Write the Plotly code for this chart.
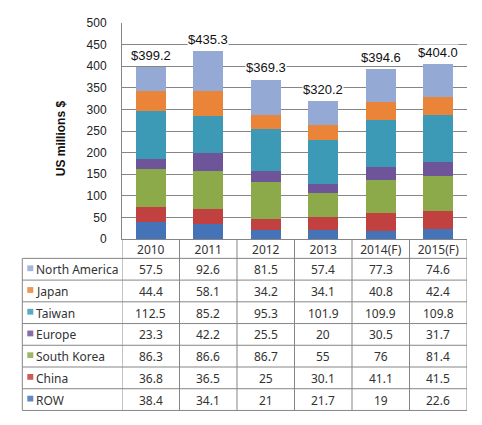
import plotly.graph_objects as go

categories = ["2010", "2011", "2012", "2013", "2014(F)", "2015(F)"]
north_america = [57.5, 92.6, 81.5, 57.4, 77.3, 74.6]
japan = [44.4, 58.1, 34.2, 34.1, 40.8, 42.4]
taiwan = [112.5, 85.2, 95.3, 101.9, 109.9, 109.8]
europe = [23.3, 42.2, 25.5, 20, 30.5, 31.7]
south_korea = [86.3, 86.6, 86.7, 55, 76, 81.4]
china = [36.8, 36.5, 25, 30.1, 41.1, 41.5]
row_values = [38.4, 34.1, 21, 21.7, 19, 22.6]
total_labels = [399.2, 435.3, 369.3, 320.2, 394.6, 404.0]

# stack order bottom -> top
series = [
    ("ROW", row_values, "#4473B8"),
    ("China", china, "#C0413F"),
    ("South Korea", south_korea, "#8DAA4A"),
    ("Europe", europe, "#6E5499"),
    ("Taiwan", taiwan, "#3C9AB7"),
    ("Japan", japan, "#EA8438"),
    ("North America", north_america, "#94A9D4"),
]

OFF = 8  # page body margin
W, H = 482 - OFF, 425 - OFF
AXIS_Y_SCREEN = 239
TOP_SCREEN = 16
LEFT_SCREEN = 122
RIGHT_SCREEN = 467
ML = LEFT_SCREEN - OFF
MT = TOP_SCREEN - OFF
MB = H - (AXIS_Y_SCREEN - OFF)
MR = W - (RIGHT_SCREEN - OFF)
PW = W - ML - MR
PH = H - MT - MB


def px_x(px):
    return (px - LEFT_SCREEN) / PW


def px_y(py):
    return (AXIS_Y_SCREEN - py) / PH


fig = go.Figure()
for name, vals, color in series:
    fig.add_trace(go.Bar(
        x=categories, y=vals, name=name,
        marker=dict(color=color, line=dict(width=0)),
        hoverinfo="skip",
    ))

font_table = "Noto Sans, Open Sans, sans-serif"
font_arial = "Liberation Sans, Arial, sans-serif"
line_col = "#858585"

annotations = []
shapes = []

# total labels
for k, t in enumerate(total_labels):
    annotations.append(dict(
        x=k, y=t, xref="x", yref="y", text=f"${t:.1f}", showarrow=False,
        xanchor="center", yanchor="bottom", yshift=3,
        bgcolor="white", borderpad=0,
        font=dict(family=font_arial, size=13, color="#111111"),
    ))

# y title
annotations.append(dict(
    x=px_x(61), y=px_y(135), xref="paper", yref="paper",
    text="<b>US millions $</b>", textangle=-90, showarrow=False,
    xanchor="center", yanchor="middle",
    font=dict(family=font_arial, size=12, color="#111111"),
))

# table
TABLE_TOP = 259
ROW_H = 22.43
TABLE_LEFT = 22.3
table_rows = list(reversed(series))
n_rows = len(table_rows)
table_bottom = TABLE_TOP + ROW_H * n_rows

for i in range(n_rows + 1):
    y = px_y(TABLE_TOP + i * ROW_H)
    shapes.append(dict(type="line", xref="paper", yref="paper",
                       x0=px_x(TABLE_LEFT), x1=1, y0=y, y1=y,
                       line=dict(color=line_col, width=1)))
shapes.append(dict(type="line", xref="paper", yref="paper",
                   x0=px_x(TABLE_LEFT), x1=px_x(TABLE_LEFT),
                   y0=px_y(TABLE_TOP), y1=px_y(table_bottom),
                   line=dict(color=line_col, width=1)))
for k in range(len(categories) + 1):
    shapes.append(dict(type="line", xref="x", yref="paper",
                       x0=k - 0.5, x1=k - 0.5, y0=0, y1=px_y(table_bottom),
                       line=dict(color=line_col, width=1)))

for i, (name, vals, color) in enumerate(table_rows):
    cy = TABLE_TOP + ROW_H * (i + 0.5)
    shapes.append(dict(type="rect", xref="paper", yref="paper",
                       x0=px_x(27.3), x1=px_x(33.3),
                       y0=px_y(cy - 4), y1=px_y(cy + 2),
                       fillcolor=color, line=dict(width=0), opacity=0.85))
    annotations.append(dict(
        x=px_x(34), y=px_y(cy + 0.5), xref="paper", yref="paper",
        text=name, showarrow=False, xanchor="left", yanchor="middle",
        font=dict(family=font_table, size=12, color="#333333"),
    ))
    for k, v in enumerate(vals):
        annotations.append(dict(
            x=k, y=px_y(cy + 0.5), xref="x", yref="paper",
            text=f"{v:g}", showarrow=False, xanchor="center", yanchor="middle",
            font=dict(family=font_table, size=12, color="#333333"),
        ))

fig.update_layout(
    width=W, height=H,
    margin=dict(l=ML, r=MR, t=MT, b=MB, pad=0),
    barmode="stack", bargap=0.48,
    showlegend=False,
    plot_bgcolor="white", paper_bgcolor="white",
    annotations=annotations, shapes=shapes,
)
fig.update_xaxes(
    type="category", range=[-0.5, len(categories) - 0.5],
    showline=True, linecolor=line_col, linewidth=1,
    showgrid=False, ticks="",
    tickfont=dict(family=font_table, size=12, color="#333333"),
)
fig.update_yaxes(
    range=[0, 500], dtick=50, tick0=0,
    showgrid=True, gridcolor=line_col, gridwidth=1,
    showline=True, linecolor=line_col, linewidth=1,
    zeroline=False, ticks="", ticklabelstandoff=12,
    tickfont=dict(family=font_arial, size=12, color="#222222"),
)

fig.write_html("out.html")
